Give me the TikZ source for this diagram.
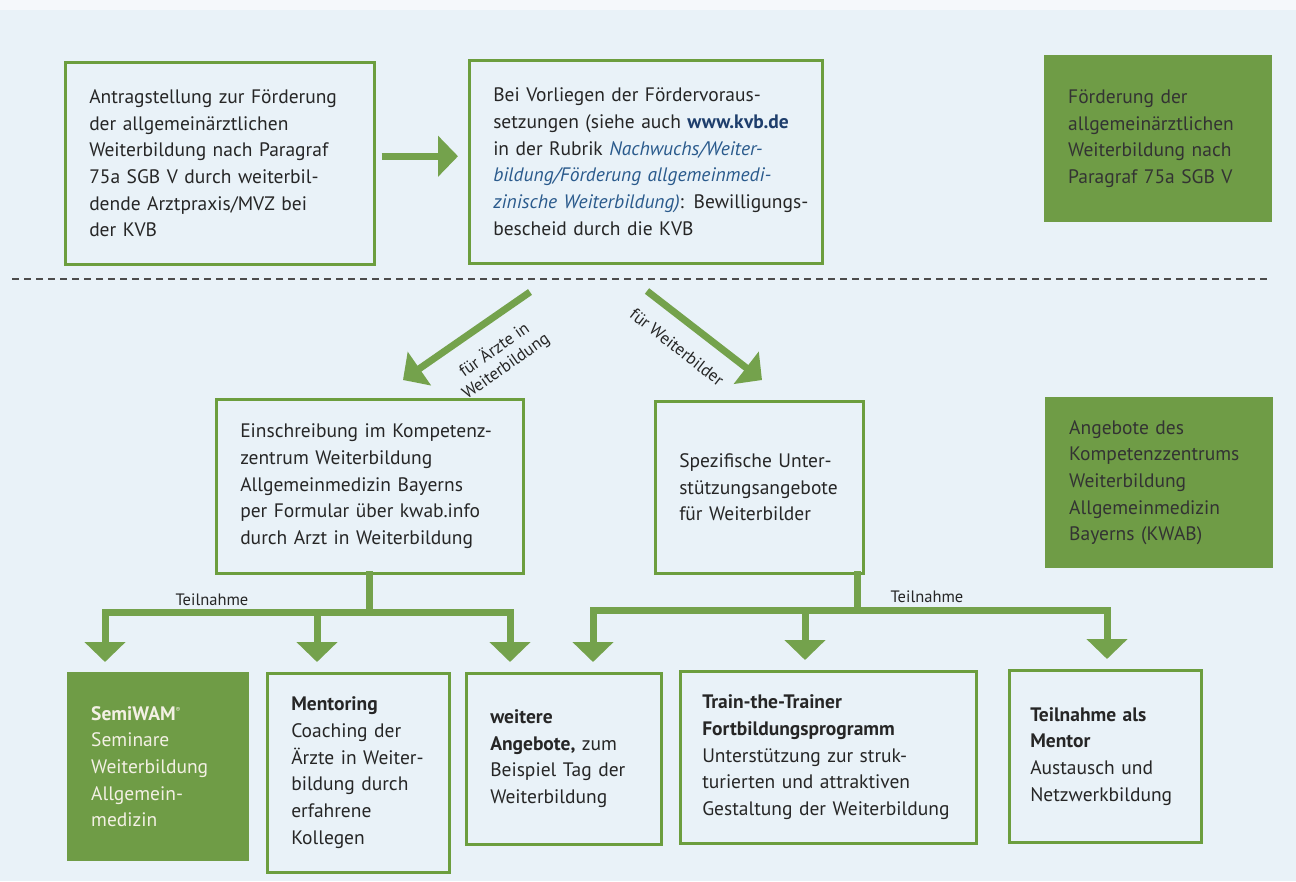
\documentclass[tikz,border=0pt]{standalone}
\usepackage{fontspec}
\setmainfont{PT Sans}
\usetikzlibrary{arrows.meta}
\definecolor{kvbgreen}{HTML}{6C9E3E}
\definecolor{arrowgreen}{HTML}{74A24C}
\definecolor{boxgreen}{HTML}{6F9C46}
\definecolor{paleblue}{HTML}{E9F2F8}
\definecolor{paperwhite}{HTML}{F5F8FB}
\definecolor{inkblue}{HTML}{1E3E6C}
\definecolor{linkblue}{HTML}{2A5A8C}
\definecolor{palecream}{HTML}{F3F0E4}

\begin{document}
\begin{tikzpicture}[x=1pt,y=-1pt,
  font=\fontsize{19.5}{26.7}\selectfont,
  stepbox/.style={draw=kvbgreen, line width=2.5pt, anchor=north west, align=left,
    inner xsep=24pt, inner ysep=0pt, text=black!85},
  infobox/.style={fill=boxgreen, anchor=north west, align=left,
    inner xsep=24pt, inner ysep=0pt, text=black!80},
  flow/.style={draw=arrowgreen, line width=7pt, -{Triangle[width=40pt,length=20pt]}},
  bus/.style={draw=arrowgreen, line width=7pt, line cap=rect},
  tag/.style={font=\fontsize{16.5}{19}\selectfont, text=black!85, align=center},
  sepline/.style={draw=black!70, line width=1.3pt, dash pattern=on 7pt off 5pt}]
\useasboundingbox (0,0) rectangle (1296,881);
\fill[paleblue] (0,0) rectangle (1296,881);
\fill[paperwhite] (0,0) rectangle (1296,10);
% upper part: Foerderung nach Paragraf 75a
\node[stepbox, minimum width=309pt, minimum height=202pt, text width=261pt] (antrag) at (64,61)
  {Antragstellung zur Förderung\\
   der allgemeinärztlichen\\
   Weiterbildung nach Paragraf\\
   75a SGB V durch weiterbil-\\
   dende Arztpraxis/MVZ bei\\
   der KVB};
\node[stepbox, minimum width=353pt, minimum height=203pt, text width=305pt] (bescheid) at (468,59)
  {Bei Vorliegen der Fördervoraus-\\
   setzungen (siehe auch \textbf{\color{inkblue}www.kvb.de}\\
   in der Rubrik \textit{\color{linkblue}Nachwuchs/Weiter-}\\
   \textit{\color{linkblue}bildung/Förderung allgemeinmedi-}\\
   \mbox{\textit{\color{linkblue}zinische Weiterbildung)}: Bewilligungs-}\\
   bescheid durch die KVB};
\node[infobox, minimum width=228pt, minimum height=167pt, text width=180pt] (foerderung) at (1044,55)
  {Förderung der\\
   allgemeinärztlichen\\
   Weiterbildung nach\\
   Paragraf 75a SGB V};
\coordinate (antragOut) at ([yshift=7pt]antrag.east);
\draw[flow, shorten <=6pt, shorten >=10pt] (antragOut) -- (antragOut -| bescheid.west);
% Trennlinie
\coordinate (sepL) at (12,279);
\coordinate (sepR) at (1270,279);
\draw[sepline] (sepL) -- (sepR);
% lower part: KWAB
\coordinate (aerzteFrom) at (530,292);
\coordinate (aerzteTo) at (403,380);
\coordinate (bilderFrom) at (647,291);
\coordinate (bilderTo) at (762,380);
\draw[flow] (aerzteFrom) -- (aerzteTo);
\draw[flow] (bilderFrom) -- (bilderTo);
\node[tag, font=\fontsize{17}{20}\selectfont, rotate=35] (aerzteTag) at (500,358) {für Ärzte in\\Weiterbildung};
\node[tag, font=\fontsize{17}{20}\selectfont, rotate=-38] (bilderTag) at (677,347) {für Weiterbilder};
\node[stepbox, minimum width=307pt, minimum height=174pt, text width=259pt] (einschreibung) at (215,398)
  {Einschreibung im Kompetenz-\\
   zentrum Weiterbildung\\
   Allgemeinmedizin Bayerns\\
   per Formular über kwab.info\\
   durch Arzt in Weiterbildung};
\node[stepbox, minimum width=208pt, minimum height=172pt, text width=160pt] (spezifisch) at (654,400)
  {Spezifische Unter-\\
   stützungsangebote\\
   für Weiterbilder};
\node[infobox, minimum width=228pt, minimum height=171pt, text width=180pt] (angebote) at (1045,397)
  {Angebote des\\
   Kompetenzzentrums\\
   Weiterbildung\\
   Allgemeinmedizin\\
   Bayerns (KWAB)};
\node[infobox, minimum width=182pt, minimum height=189pt, text width=134pt, text=palecream] (semiwam) at (67,672)
  {\textbf{SemiWAM}\textsuperscript{\scriptsize®}\\
   Seminare\\
   Weiterbildung\\
   Allgemein-\\
   medizin};
\node[stepbox, minimum width=182pt, minimum height=199pt, text width=134pt] (mentoring) at (266,672)
  {\textbf{Mentoring}\\
   Coaching der\\
   Ärzte in Weiter-\\
   bildung durch\\
   erfahrene\\
   Kollegen};
\node[stepbox, minimum width=195pt, minimum height=171pt, text width=147pt] (weitere) at (465,672)
  {\textbf{weitere}\\
   \textbf{Angebote,} zum\\
   Beispiel Tag der\\
   Weiterbildung};
\node[stepbox, minimum width=296pt, minimum height=172pt, text width=252pt, inner xsep=22pt] (trainer) at (679,670)
  {\textbf{Train-the-Trainer}\\
   \textbf{Fortbildungsprogramm}\\
   Unterstützung zur struk-\\
   turierten und attraktiven\\
   Gestaltung der Weiterbildung};
\node[stepbox, minimum width=192pt, minimum height=172pt, text width=150pt, inner xsep=21pt] (mentor) at (1008,669)
  {\textbf{Teilnahme als}\\
   \textbf{Mentor}\\
   Austausch und\\
   Netzwerkbildung};
% Teilnahme, Aerzte in Weiterbildung
\coordinate (tL1) at (105,612);
\coordinate (tL2) at (317,612);
\coordinate (tL3) at (510,612);
\draw[bus] (einschreibung.south) -- (einschreibung.south |- tL1);
\draw[bus] (tL1) -- (tL3);
\draw[flow, shorten >=10pt] (tL1) -- (tL1 |- semiwam.north);
\draw[flow, shorten >=10pt] (tL2) -- (tL2 |- mentoring.north);
\draw[flow, shorten >=10pt] (tL3) -- (tL3 |- weitere.north);
\node[tag] (teilnahmeL) at (212,600) {Teilnahme};
% Teilnahme, Weiterbilder
\coordinate (tR0) at ([xshift=-7pt]spezifisch.south east);
\coordinate (tR1) at (593,610);
\coordinate (tR2) at (805,610);
\coordinate (tR3) at (1107,610);
\draw[bus] (tR0) -- (tR0 |- tR1);
\draw[bus] (tR1) -- (tR3);
\draw[flow, shorten >=10pt] (tR1) -- (tR1 |- weitere.north);
\draw[flow, shorten >=10pt] (tR2) -- (tR2 |- trainer.north);
\draw[flow, shorten >=10pt] (tR3) -- (tR3 |- mentor.north);
\node[tag] (teilnahmeR) at (927,597) {Teilnahme};
\end{tikzpicture}
\end{document}
